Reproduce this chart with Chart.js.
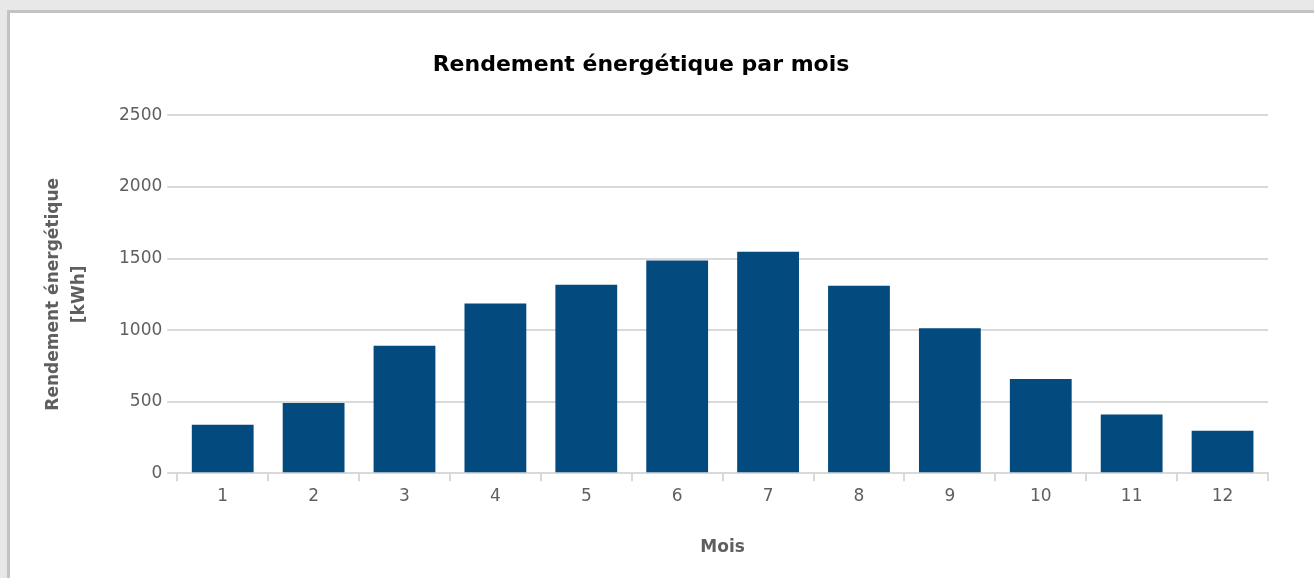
<!DOCTYPE html>
<html>
<head>
<meta charset="utf-8">
<script src="https://cdn.jsdelivr.net/npm/chart.js@4/dist/chart.umd.min.js"></script>
<style>
  html, body { margin: 0; padding: 0; background: #e8e8e8; overflow: hidden; }
  .panel {
    position: absolute; left: 7px; top: 10px; width: 1320px; height: 580px;
    background: #fff; border-left: 3px solid #c3c3c3; border-top: 3px solid #c3c3c3;
  }
  .wrap { position: absolute; left: 0; top: 0; width: 1304px; height: 565px; }
</style>
</head>
<body>
<div class="panel">
  <div class="wrap"><canvas id="myChart"></canvas></div>
</div>
<script>
const months = ['1','2','3','4','5','6','7','8','9','10','11','12'];
const rendement = [338, 490, 890, 1185, 1316, 1486, 1548, 1310, 1012, 658, 410, 296];
const yTicks = [0, 500, 1000, 1500, 2000, 2500];

const gray = '#5f5f5f';
const lineGray = '#d9d9d9';
const font = 'DejaVu Sans';

const ctx = document.getElementById('myChart');

const myChart = new Chart(ctx, {
  type: 'bar',
  data: {
    labels: months,
    datasets: [{
      label: 'Rendement énergétique',
      data: rendement,
      backgroundColor: '#034a7e',
      categoryPercentage: 0.8,
      barPercentage: 0.85
    }]
  },
  options: {
    responsive: true,
    maintainAspectRatio: false,
    animation: false,
    layout: { padding: { left: 4, right: 46, top: 0, bottom: 20 } },
    plugins: {
      legend: { display: false },
      tooltip: { enabled: false },
      title: {
        display: true,
        text: 'Rendement énergétique par mois',
        color: '#000',
        font: { family: font, size: 22, weight: 'bold' },
        padding: { top: 39, bottom: 37 }
      }
    },
    scales: {
      x: {
        grid: { offset: true, drawOnChartArea: false, color: lineGray, lineWidth: 2, tickLength: 8 },
        border: { display: true, color: lineGray, width: 2 },
        ticks: { color: gray, font: { family: font, size: 17 }, padding: 5 },
        title: {
          display: true, text: 'Mois', color: gray,
          font: { family: font, size: 17, weight: 'bold' },
          padding: { top: 26, bottom: 0 }
        }
      },
      y: {
        min: 0,
        max: 2500,
        afterBuildTicks: axis => { axis.ticks = yTicks.map(v => ({ value: v })); },
        grid: { color: lineGray, lineWidth: 2, tickLength: 10 },
        border: { display: false },
        ticks: { color: gray, font: { family: font, size: 17 }, padding: 5, callback: v => String(v) },
        title: {
          display: true, text: ['Rendement énergétique', '[kWh]'], color: gray,
          font: { family: font, size: 17, weight: 'bold', lineHeight: 1.5 },
          padding: { top: 27, bottom: 22 }
        }
      }
    }
  }
});
</script>
</body>
</html>
